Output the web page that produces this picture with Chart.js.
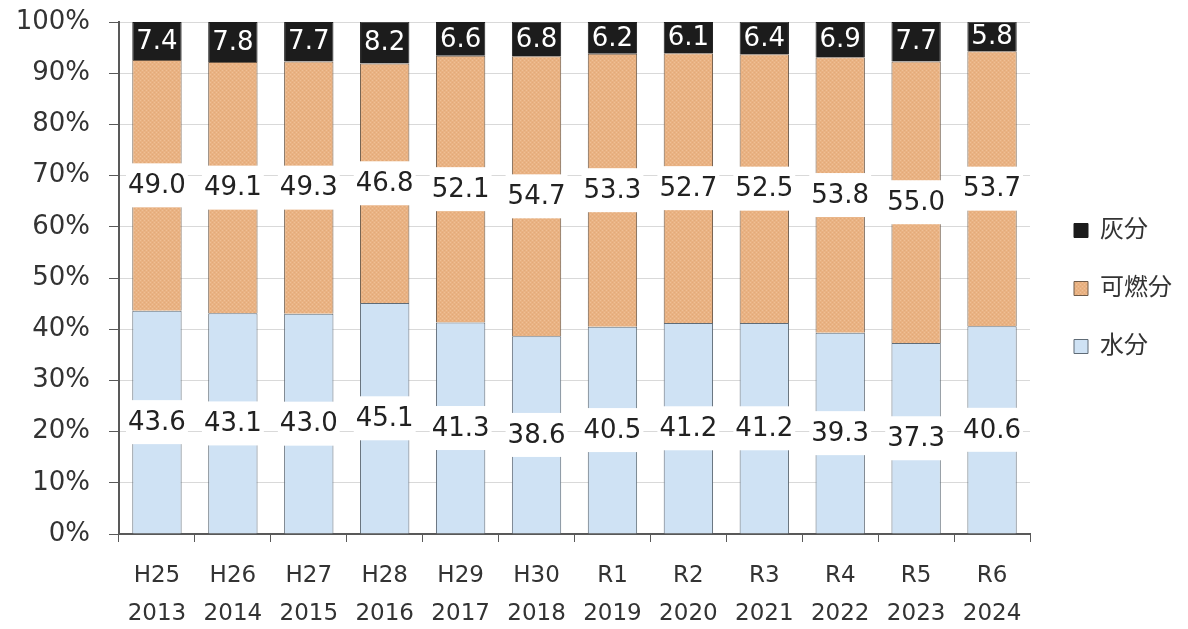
<!DOCTYPE html>
<html>
<head>
<meta charset="utf-8">
<script src="https://cdn.jsdelivr.net/npm/chart.js@4/dist/chart.umd.min.js"></script>
<style>
  html, body { margin: 0; padding: 0; background: #fff; }
  #wrap { width: 1188px; height: 629px; }
</style>
</head>
<body>
<div id="wrap"><canvas id="grafica" width="1188" height="629"></canvas></div>
<script>
// datos
const nendo = ['H25', 'H26', 'H27', 'H28', 'H29', 'H30', 'R1', 'R2', 'R3', 'R4', 'R5', 'R6'];
const anios = ['2013', '2014', '2015', '2016', '2017', '2018', '2019', '2020', '2021', '2022', '2023', '2024'];
const suibun = [43.6, 43.1, 43.0, 45.1, 41.3, 38.6, 40.5, 41.2, 41.2, 39.3, 37.3, 40.6];
const kanenbun = [49.0, 49.1, 49.3, 46.8, 52.1, 54.7, 53.3, 52.7, 52.5, 53.8, 55.0, 53.7];
const haibun = [7.4, 7.8, 7.7, 8.2, 6.6, 6.8, 6.2, 6.1, 6.4, 6.9, 7.7, 5.8];
const yTicks = [0, 10, 20, 30, 40, 50, 60, 70, 80, 90, 100];

const fuente = "'DejaVu Sans', 'Noto Sans CJK JP', sans-serif";

// trama punteada para el naranja
function trama() {
  const c = document.createElement('canvas');
  c.width = 4; c.height = 4;
  const g = c.getContext('2d');
  g.fillStyle = '#e9b283';
  g.fillRect(0, 0, 4, 4);
  g.fillStyle = '#efc096';
  g.fillRect(0, 0, 1, 1);
  g.fillRect(2, 2, 1, 1);
  g.fillStyle = '#e3aa78';
  g.fillRect(2, 0, 1, 1);
  g.fillRect(0, 2, 1, 1);
  return g.createPattern(c, 'repeat');
}

// etiquetas de valores
const etiquetas = {
  id: 'etiquetas',
  afterDatasetsDraw(chart) {
    const ctx = chart.ctx;
    ctx.save();
    ctx.font = '26px ' + fuente;
    ctx.textAlign = 'center';
    ctx.textBaseline = 'middle';
    chart.data.datasets.forEach((ds, i) => {
      const meta = chart.getDatasetMeta(i);
      meta.data.forEach((el, j) => {
        const txt = ds.data[j].toFixed(1);
        const top = Math.max(el.y, chart.chartArea.top);
        const cy = (top + el.base) / 2;
        const w = ctx.measureText(txt).width;
        if (i < 2) {
          ctx.fillStyle = '#ffffff';
          ctx.fillRect(el.x - w / 2 - 2, cy - 22, w + 4, 44);
          ctx.fillStyle = '#222222';
        } else {
          ctx.fillStyle = '#ffffff';
        }
        ctx.fillText(txt, el.x, cy + 1);
      });
    });
    ctx.restore();
  }
};

// mover la leyenda un poco
const moverLeyenda = {
  id: 'moverLeyenda',
  afterLayout(chart) {
    const lg = chart.legend;
    lg.left += 10; lg.right += 10;
    lg.top -= 37; lg.bottom -= 37;
  }
};

const ctx = document.getElementById('grafica').getContext('2d');
let myChart = new Chart(ctx, {
  type: 'bar',
  data: {
    labels: nendo.map((n, i) => [n, anios[i]]),
    datasets: [
      {
        label: '水分',
        data: suibun,
        backgroundColor: '#cfe2f4',
        borderColor: '#5f6b76',
        borderWidth: 1
      },
      {
        label: '可燃分',
        data: kanenbun,
        backgroundColor: trama(),
        borderColor: '#6e5a48',
        borderWidth: 1
      },
      {
        label: '灰分',
        data: haibun,
        backgroundColor: '#1c1c1c',
        borderColor: '#1c1c1c',
        borderWidth: 1
      }
    ]
  },
  options: {
    responsive: false,
    animation: false,
    devicePixelRatio: 1,
    layout: { padding: { top: 22, left: 0, right: 16, bottom: 0 } },
    datasets: { bar: { categoryPercentage: 0.65, barPercentage: 1 } },
    plugins: {
      tooltip: { enabled: false },
      legend: {
        position: 'right',
        reverse: true,
        labels: {
          font: { family: fuente, size: 24 },
          color: '#333333',
          boxWidth: 14,
          boxHeight: 14,
          padding: 34
        }
      }
    },
    scales: {
      x: {
        stacked: true,
        grid: { drawOnChartArea: false, tickLength: 8, color: '#595959', offset: true },
        border: { color: '#595959', width: 2 },
        ticks: {
          font: { family: fuente, size: 23, lineHeight: 1.65 },
          color: '#333333',
          padding: 15,
          maxRotation: 0,
          autoSkip: false
        },
        afterFit(scale) { scale.height = 95; }
      },
      y: {
        stacked: true,
        min: 0,
        max: 100,
        afterBuildTicks(scale) { scale.ticks = yTicks.map(v => ({ value: v })); },
        grid: { color: '#d9d9d9', tickLength: 10, tickColor: '#595959' },
        border: { color: '#595959', width: 2 },
        ticks: {
          font: { family: fuente, size: 26 },
          color: '#333333',
          padding: 19,
          callback: v => v + '%'
        },
        afterFit(scale) {
          scale.width = 119;
          scale.paddingTop = 0;
          scale.paddingBottom = 0;
        }
      }
    }
  },
  plugins: [etiquetas, moverLeyenda]
});
</script>
</body>
</html>
